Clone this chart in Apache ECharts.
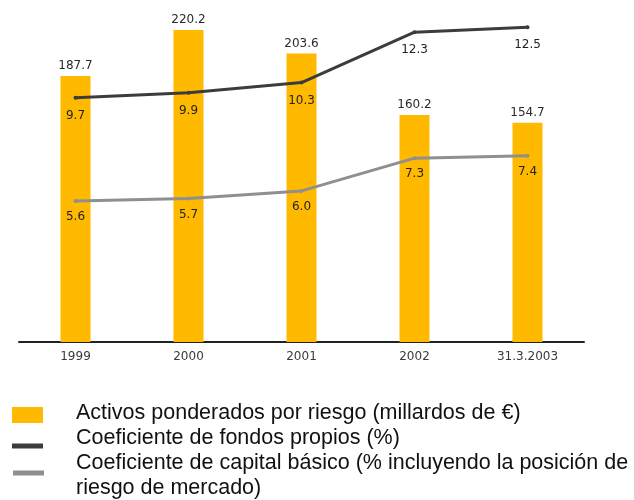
<!DOCTYPE html>
<html>
<head>
<meta charset="utf-8">
<title>Activos ponderados por riesgo</title>
<script src="https://cdn.jsdelivr.net/npm/echarts@6/dist/echarts.min.js"></script>
<style>
  html, body { margin: 0; padding: 0; background: #fff; }
  #chart { width: 634px; height: 500px; }
</style>
</head>
<body>
<div id="chart"></div>
<script>
// categorias del eje x
const years = ['1999', '2000', '2001', '2002', '31.3.2003'];

// activos ponderados por riesgo (millardos de €)
const activos = [187.7, 220.2, 203.6, 160.2, 154.7];
// coeficiente de fondos propios (%)
const fondosPropios = [9.7, 9.9, 10.3, 12.3, 12.5];
// coeficiente de capital basico (%)
const capitalBasico = [5.6, 5.7, 6.0, 7.3, 7.4];

const seriesNames = [
  'Activos ponderados por riesgo (millardos de €)',
  'Coeficiente de fondos propios (%)',
  'Coeficiente de capital básico (% incluyendo la posición de riesgo de mercado)'
];

const numFont = 'DejaVu Sans';
const textFont = '"Liberation Sans", Arial, sans-serif';

const chart = echarts.init(document.getElementById('chart'));

chart.setOption({
  animation: false,
  backgroundColor: '#fff',
  grid: { left: 19, right: 50, top: 2, bottom: 158 },
  xAxis: {
    type: 'category',
    data: years,
    axisTick: { show: false },
    axisLine: { lineStyle: { color: '#222', width: 2 } },
    axisLabel: { margin: 9, fontFamily: numFont, fontSize: 12, color: '#3a3a3a' }
  },
  yAxis: [
    { type: 'value', min: 0, max: 240, show: false, splitLine: { show: false } },
    { type: 'value', min: 0, max: 13.5, show: false, splitLine: { show: false } }
  ],
  // leyenda: iconos dibujados dentro de una caja de 59x20 para que el texto empiece en x=76
  legend: {
    orient: 'vertical',
    left: 12,
    top: 401,
    width: 620,
    height: 140, // si no, la tercera entrada salta a otra columna
    padding: 0,
    itemGap: 0,
    itemWidth: 59,
    itemHeight: 20,
    selectedMode: false,
    textStyle: { fontFamily: textFont, fontSize: 21.5, lineHeight: 25, color: '#111' },
    formatter(name) {
      return name.replace(' posición de ', ' posición de\n');
    },
    data: [
      { name: seriesNames[0], icon: 'path://M0,0 M59,20 M0,3.5 L31,3.5 L31,19.5 L0,19.5 Z' },
      { name: seriesNames[1], icon: 'path://M0,0 M59,20 M0,15 L31,15 L31,20 L0,20 Z' },
      { name: seriesNames[2], icon: 'path://M0,0 M59,20 M1,4.5 L32,4.5 L32,9.5 L1,9.5 Z' }
    ]
  },
  series: [
    {
      name: seriesNames[0],
      type: 'bar',
      data: activos,
      barWidth: 30,
      color: '#ffba00',
      label: {
        show: true,
        position: 'top',
        distance: 4,
        fontFamily: numFont,
        fontSize: 12,
        color: '#2a2a2a',
        formatter: (p) => p.value.toFixed(1)
      }
    },
    {
      name: seriesNames[1],
      type: 'line',
      yAxisIndex: 1,
      data: fondosPropios,
      color: '#3c3c3c',
      symbol: 'circle',
      symbolSize: 4,
      lineStyle: { width: 3, color: '#3c3c3c', cap: 'round' },
      label: {
        show: true,
        position: 'bottom',
        distance: 10,
        fontFamily: numFont,
        fontSize: 12,
        color: '#222',
        formatter: (p) => p.value.toFixed(1)
      }
    },
    {
      name: seriesNames[2],
      type: 'line',
      yAxisIndex: 1,
      data: capitalBasico,
      color: '#8f8f8f',
      symbol: 'circle',
      symbolSize: 4,
      lineStyle: { width: 3, color: '#8f8f8f', cap: 'round' },
      label: {
        show: true,
        position: 'bottom',
        distance: 8,
        fontFamily: numFont,
        fontSize: 12,
        color: '#222',
        formatter: (p) => p.value.toFixed(1)
      }
    }
  ]
});
</script>
</body>
</html>
